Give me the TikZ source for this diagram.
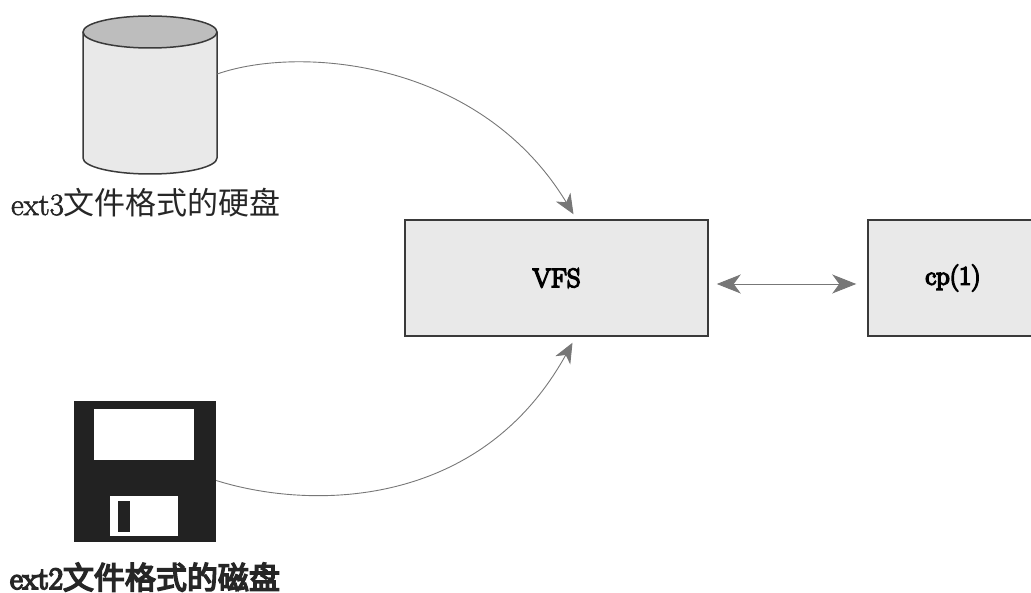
\documentclass[tikz,border=0pt]{standalone}
\usepackage{fontspec}
\usepackage{pgf,tikz}
\usetikzlibrary{arrows.meta}
\newfontfamily\cjk{Noto Sans CJK SC}
\newfontfamily\cjkheavy[FakeBold=5]{Noto Sans CJK SC}
\newfontfamily\lmmedium[FakeBold=2]{Latin Modern Roman}
\newfontfamily\lmheavy[FakeBold=6]{Latin Modern Roman}
\definecolor{boxgray}{HTML}{E9E9E9}
\definecolor{topgray}{HTML}{BDBDBD}
\definecolor{linegray}{HTML}{3A3A3A}
\definecolor{arrowgray}{HTML}{777777}
\definecolor{floppyblack}{HTML}{222222}
\tikzset{
  graybox/.style={draw=linegray, line width=1.5pt, fill=boxgray, inner sep=0pt,
    minimum height=116pt, font=\lmheavy\fontsize{26.5}{30}\selectfont},
  link/.style={draw=arrowgray, line width=0.9pt},
  caption/.style={inner sep=0pt, text depth=0pt, text height=20pt, text=black!85},
  hole/.style={fill=white, inner sep=0pt}
}
\begin{document}
\begin{tikzpicture}[x=1pt,y=-1pt]
    \useasboundingbox (0,0) rectangle (1031,593);
    % left: the two disks
    \node[minimum width=134pt, minimum height=158pt, inner sep=0pt] (disk) at (150,95) {};
    \draw[draw=linegray, line width=1.5pt, fill=boxgray] (83,32) -- (83,158)
      arc[start angle=180, end angle=360, x radius=67pt, y radius=16pt] -- (217,32);
    \draw[draw=linegray, line width=1.5pt, fill=topgray] (150,32) ellipse [x radius=67pt, y radius=16pt];
    \node[caption, font=\lmmedium\fontsize{31}{33}\selectfont] (diskname) at (146,205) {ext3{\cjk 文件格式的硬盘}};
    \node[fill=floppyblack, minimum width=142pt, minimum height=141pt, inner sep=0pt] (floppy) at (145,471.5) {};
    \node[hole, minimum width=100pt, minimum height=51pt] (floppytop) at (144,434.5) {};
    \node[hole, minimum width=68pt, minimum height=40pt] (floppylow) at (144,516) {};
    \node[fill=floppyblack, minimum width=12pt, minimum height=31pt, inner sep=0pt] (floppyslot) at (124,516.5) {};
    \node[caption, font=\lmheavy\fontsize{31}{33}\selectfont] (floppyname) at (145,579) {ext2{\cjkheavy 文件格式的磁盘}};
    % right: the two boxes
    \node[graybox, minimum width=303pt] (vfs) at (556.5,278) {VFS};
    \node[graybox, minimum width=170pt] (cp) at (953,278) {cp(1)};
    % links
    \draw[link, -{Stealth[length=20pt, width=17pt, inset=6pt]}] ([yshift=21pt]disk.east)
      .. controls (300,45) and (480,60) .. ([xshift=17pt,yshift=5pt]vfs.north);
    \draw[link, -{Stealth[length=20pt, width=17pt, inset=6pt]}] ([yshift=-9pt]floppy.east)
      .. controls (310,510) and (480,510) .. ([xshift=16pt,yshift=-6pt]vfs.south);
    \draw[link, {Stealth[length=24pt, width=19pt, inset=7pt]}-{Stealth[length=24pt, width=19pt, inset=7pt]}]
      ([xshift=8pt,yshift=-6pt]vfs.east) -- ([xshift=-11pt,yshift=-6pt]cp.west);
  \end{tikzpicture}
\end{document}
